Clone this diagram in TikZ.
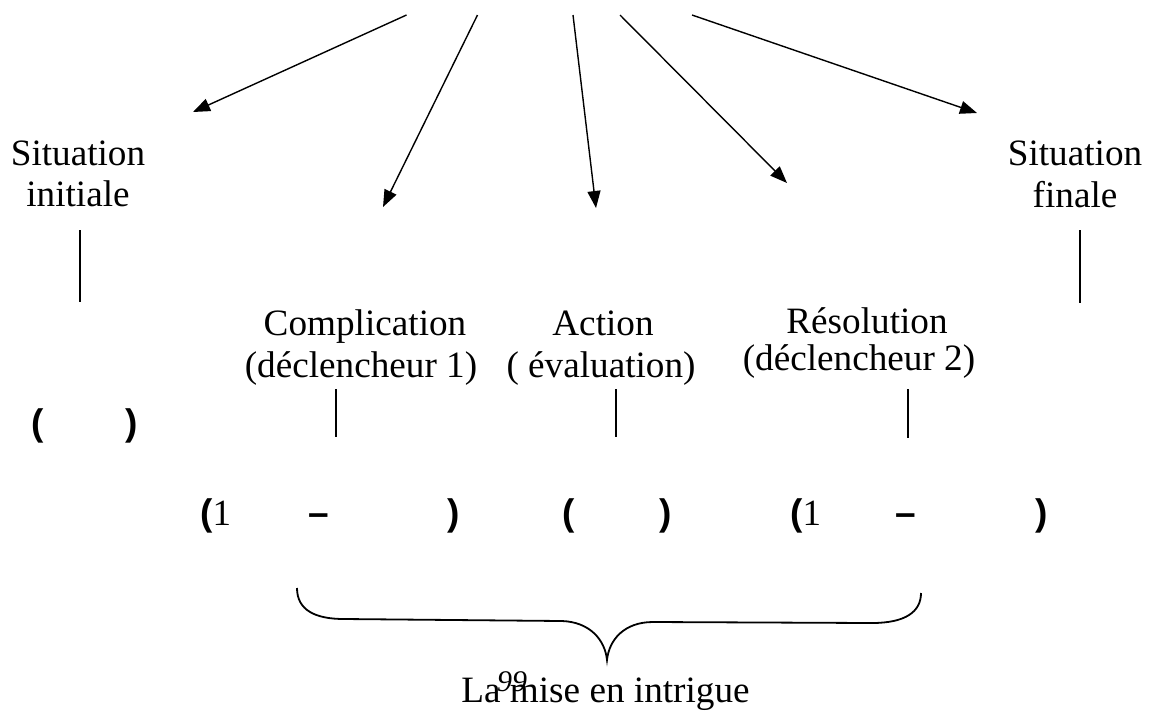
\documentclass[tikz,border=0pt]{standalone}
\usepackage{fontspec}
\setmainfont{Liberation Serif}
\newfontfamily\parenfont{Liberation Sans}
\usetikzlibrary{arrows.meta}
\begin{document}
\begin{tikzpicture}[x=1pt,y=-1pt,
  lbl/.style={font=\fontsize{37.2}{41}\selectfont, inner sep=0pt, anchor=base},
  par/.style={font=\parenfont\bfseries\fontsize{37}{41}\selectfont, inner sep=0pt, anchor=base},
  pnum/.style={font=\itshape\fontsize{30}{32}\selectfont, inner sep=0pt, anchor=base},
  tick/.style={line width=1.6pt},
  ray/.style={line width=1.4pt, -{Triangle[length=17pt,width=13pt]}},
  bracepath/.style={line width=1.8pt}]
\useasboundingbox (0,0) rectangle (1161,713);

% rays coming down from the top
\coordinate (src1) at (406.5,15);  \coordinate (tip1) at (193,112);
\coordinate (src2) at (477.5,15);  \coordinate (tip2) at (383,207);
\coordinate (src3) at (573,15);    \coordinate (tip3) at (596,208);
\coordinate (src4) at (620,15);    \coordinate (tip4) at (787,183);
\coordinate (src5) at (692,15);    \coordinate (tip5) at (977,113);
\foreach \i in {1,...,5} \draw[ray] (src\i) -- (tip\i);

% stage labels
\node[lbl] (si1) at (78,165) {Situation};
\node[lbl] (si2) at (78,206) {initiale};
\node[lbl] (sf1) at (1075,165) {Situation};
\node[lbl] (sf2) at (1075,207) {finale};
\node[lbl] (co1) at (365,335) {Complication};
\node[lbl] (co2) at (361,377) {(déclencheur 1)};
\node[lbl] (ac1) at (603,335) {Action};
\node[lbl] (ac2) at (601,377) {( évaluation)};
\node[lbl] (re1) at (867,333) {Résolution};
\node[lbl] (re2) at (859,370) {(déclencheur 2)};

% short vertical ticks under the labels
\coordinate (t1a) at (80,230);   \coordinate (t1b) at (80,302);
\coordinate (t2a) at (1080,230); \coordinate (t2b) at (1080,303);
\coordinate (t3a) at (336,389);  \coordinate (t3b) at (336,437);
\coordinate (t4a) at (616,389);  \coordinate (t4b) at (616,437);
\coordinate (t5a) at (908,389);  \coordinate (t5b) at (908,438);
\foreach \i in {1,...,5} \draw[tick] (t\i a) -- (t\i b);

% bracket rows
\node[par] (p0a) at (38,435) {(};
\node[par] (p0b) at (132,435) {)};

\node[par, anchor=base west] (p1a) at (200,525) {({\rmfamily\mdseries 1}};
\node[par] (d1) at (319,525) {–};
\node[par] (p1b) at (454,525) {)};
\node[par] (p2a) at (569,525) {(};
\node[par] (p2b) at (666,525) {)};
\node[par, anchor=base west] (p3a) at (790,525) {({\rmfamily\mdseries 1}};
\node[par] (d3) at (906,525) {–};
\node[par] (p3b) at (1042,525) {)};

% curly brace grouping the middle stages
\coordinate (bl) at (297,588);
\coordinate (bt) at (607,660);
\coordinate (br) at (921,593);
\draw[bracepath] (bl) .. controls (297,610) and (315,619) .. (344,619)
  -- (562,621) .. controls (590,622) and (605,640) .. (bt)
  .. controls (609,640) and (624,622) .. (653,622)
  -- (872,623) .. controls (905,623) and (921,612) .. (br);

% caption and page number
\node[lbl] (mise) at (605.5,702) {La mise en intrigue};
\node[pnum] (pg) at (512,691) {99};
\end{tikzpicture}
\end{document}
